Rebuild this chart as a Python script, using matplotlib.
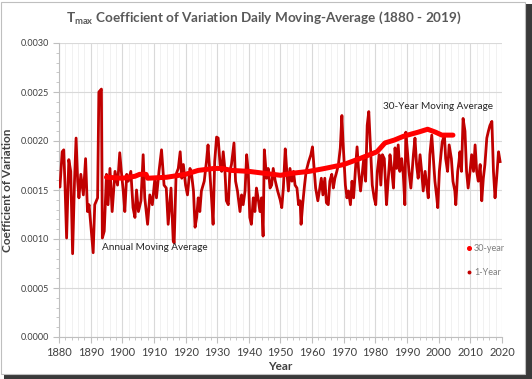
import matplotlib
matplotlib.use("Agg")
import matplotlib.pyplot as plt
from matplotlib.patches import Rectangle
from matplotlib.lines import Line2D
from matplotlib.ticker import MultipleLocator, FormatStrFormatter

plt.rcParams['font.family'] = ['Lato', 'DejaVu Sans']

# annual (1-year) moving average
annual_year = [
    1880.0, 1880.3, 1881.0, 1881.5, 1881.9, 1882.4, 1883.1, 1883.7, 1884.3, 1884.9,
    1885.4, 1885.9, 1886.3, 1886.9, 1887.7, 1888.4, 1889.0, 1889.5, 1890.1, 1890.8,
    1891.3, 1892.2, 1892.6, 1893.4, 1893.7, 1894.3, 1895.0, 1895.5, 1896.1, 1896.8,
    1897.7, 1898.5, 1899.2, 1899.7, 1900.3, 1900.8, 1901.4, 1901.9, 1902.7, 1903.4,
    1904.0, 1904.5, 1905.1, 1905.9, 1906.6, 1907.1, 1908.0, 1908.7, 1909.5, 1910.3,
    1910.8, 1911.6, 1912.4, 1913.2, 1913.9, 1914.5, 1915.4, 1916.1, 1916.4, 1917.0,
    1917.7, 1918.3, 1918.8, 1919.3, 1920.0, 1920.6, 1921.4, 1921.9, 1922.5, 1923.0,
    1923.5, 1924.0, 1924.5, 1925.0, 1925.9, 1926.6, 1927.1, 1927.6, 1928.2, 1928.7,
    1929.2, 1929.8, 1930.3, 1930.9, 1931.4, 1931.9, 1932.4, 1932.9, 1933.5, 1934.0,
    1934.5, 1935.3, 1935.8, 1936.4, 1937.2, 1937.7, 1938.2, 1938.8, 1939.3, 1939.8,
    1940.3, 1940.8, 1941.4, 1941.9, 1942.4, 1942.9, 1943.5, 1944.0, 1944.5, 1944.9,
    1945.6, 1946.1, 1946.7, 1947.2, 1947.7, 1948.3, 1949.1, 1949.9, 1950.4, 1950.9,
    1951.5, 1952.0, 1952.5, 1953.0, 1953.6, 1954.1, 1954.6, 1955.2, 1955.7, 1956.2,
    1956.5, 1957.0, 1957.6, 1958.1, 1958.9, 1959.6, 1960.1, 1960.7, 1961.1, 1961.8,
    1962.9, 1963.4, 1964.0, 1964.5, 1965.1, 1965.6, 1966.2, 1966.7, 1967.2, 1967.8,
    1968.3, 1968.9, 1969.4, 1969.7, 1970.5, 1971.0, 1971.5, 1972.1, 1972.6, 1973.1,
    1973.7, 1974.2, 1974.7, 1975.3, 1975.8, 1976.3, 1976.9, 1977.4, 1977.9, 1978.5,
    1979.0, 1979.6, 1980.1, 1980.6, 1981.2, 1981.7, 1982.2, 1982.8, 1983.5, 1984.0,
    1984.6, 1985.1, 1985.7, 1986.2, 1986.7, 1987.2, 1987.7, 1988.3, 1988.8, 1989.3,
    1989.6, 1990.2, 1990.6, 1991.2, 1992.0, 1992.5, 1993.0, 1993.5, 1994.1, 1994.6,
    1995.1, 1995.7, 1996.2, 1996.7, 1997.2, 1997.8, 1998.3, 1998.8, 1999.4, 1999.7,
    2000.2, 2000.7, 2001.1, 2001.8, 2002.2, 2002.8, 2003.3, 2004.0, 2004.5, 2005.1,
    2005.4, 2006.0, 2006.4, 2006.7, 2007.2, 2007.7, 2008.3, 2008.8, 2009.3, 2009.9,
    2010.4, 2011.0, 2011.5, 2012.0, 2012.5, 2013.1, 2013.6, 2014.1, 2014.6, 2015.2,
    2015.7, 2016.2, 2016.8, 2017.3, 2017.8, 2018.3, 2018.9, 2019.4,
]
annual_cv = [
    0.00155, 0.00153, 0.00189, 0.00191, 0.00155, 0.00101, 0.00181, 0.00169, 0.00085, 0.00159,
    0.00203, 0.00159, 0.00142, 0.00166, 0.00145, 0.00182, 0.00128, 0.00135, 0.00112, 0.00086,
    0.00135, 0.00142, 0.00250, 0.00253, 0.00101, 0.00108, 0.00166, 0.00135, 0.00172, 0.00128,
    0.00169, 0.00155, 0.00188, 0.00169, 0.00149, 0.00128, 0.00166, 0.00159, 0.00169, 0.00132,
    0.00122, 0.00150, 0.00128, 0.00139, 0.00186, 0.00142, 0.00115, 0.00145, 0.00135, 0.00162,
    0.00142, 0.00169, 0.00191, 0.00155, 0.00152, 0.00115, 0.00152, 0.00098, 0.00096, 0.00166,
    0.00172, 0.00189, 0.00162, 0.00176, 0.00155, 0.00145, 0.00172, 0.00166, 0.00149, 0.00112,
    0.00122, 0.00142, 0.00128, 0.00149, 0.00159, 0.00179, 0.00196, 0.00172, 0.00142, 0.00115,
    0.00179, 0.00204, 0.00203, 0.00176, 0.00169, 0.00189, 0.00172, 0.00139, 0.00135, 0.00169,
    0.00176, 0.00198, 0.00159, 0.00149, 0.00128, 0.00145, 0.00135, 0.00149, 0.00186, 0.00169,
    0.00122, 0.00115, 0.00142, 0.00128, 0.00152, 0.00142, 0.00128, 0.00142, 0.00103, 0.00191,
    0.00162, 0.00172, 0.00152, 0.00155, 0.00172, 0.00160, 0.00149, 0.00140, 0.00132, 0.00152,
    0.00192, 0.00169, 0.00149, 0.00172, 0.00159, 0.00169, 0.00155, 0.00152, 0.00135, 0.00139,
    0.00115, 0.00135, 0.00155, 0.00169, 0.00179, 0.00186, 0.00194, 0.00169, 0.00152, 0.00139,
    0.00162, 0.00145, 0.00162, 0.00137, 0.00135, 0.00159, 0.00166, 0.00152, 0.00162, 0.00169,
    0.00176, 0.00193, 0.00226, 0.00203, 0.00155, 0.00142, 0.00149, 0.00135, 0.00159, 0.00142,
    0.00172, 0.00194, 0.00169, 0.00149, 0.00166, 0.00182, 0.00159, 0.00216, 0.00230, 0.00189,
    0.00155, 0.00142, 0.00135, 0.00169, 0.00186, 0.00155, 0.00186, 0.00182, 0.00135, 0.00159,
    0.00186, 0.00172, 0.00152, 0.00193, 0.00172, 0.00196, 0.00169, 0.00182, 0.00166, 0.00135,
    0.00209, 0.00186, 0.00169, 0.00152, 0.00186, 0.00203, 0.00176, 0.00162, 0.00186, 0.00169,
    0.00149, 0.00169, 0.00155, 0.00142, 0.00186, 0.00206, 0.00182, 0.00159, 0.00142, 0.00132,
    0.00169, 0.00186, 0.00199, 0.00206, 0.00182, 0.00169, 0.00196, 0.00182, 0.00159, 0.00149,
    0.00135, 0.00169, 0.00179, 0.00189, 0.00169, 0.00223, 0.00210, 0.00169, 0.00152, 0.00169,
    0.00186, 0.00169, 0.00196, 0.00169, 0.00159, 0.00176, 0.00139, 0.00162, 0.00176, 0.00203,
    0.00210, 0.00216, 0.00220, 0.00169, 0.00142, 0.00162, 0.00189, 0.00179,
]

# 30-year moving average
ma30_year = [1895.0, 1900.0, 1904.0, 1905.5, 1907.5, 1908.0, 1914.0, 1920.0, 1924.0, 1929.0,
             1931.5, 1934.5, 1940.0, 1945.0, 1950.0, 1953.5, 1959.0, 1964.0, 1970.0, 1975.0,
             1980.5, 1983.0, 1985.0, 1986.0, 1989.0, 1993.5, 1996.5, 1999.0, 2001.0, 2004.5]
ma30_cv = [0.00163, 0.00162, 0.00164, 0.00166, 0.00166, 0.00162, 0.00163, 0.00166, 0.00170, 0.00172,
           0.00172, 0.00170, 0.00169, 0.00167, 0.00165, 0.00167, 0.00169, 0.00172, 0.00176, 0.00182,
           0.00189, 0.00198, 0.00200, 0.00201, 0.00205, 0.00209, 0.00212, 0.00209, 0.00206, 0.00206]

fig = plt.figure(figsize=(5.32, 3.79), dpi=100)

# Excel-like chart frame with a drop shadow
fig.patches.append(Rectangle((4 / 532, 0), 528 / 532, 6 / 379, transform=fig.transFigure,
                             facecolor='#3a3a3a', edgecolor='none', zorder=-3))
fig.patches.append(Rectangle((524 / 532, 0), 8 / 532, 375 / 379, transform=fig.transFigure,
                             facecolor='#3a3a3a', edgecolor='none', zorder=-3))
fig.patches.append(Rectangle((1 / 532, 5 / 379), 524 / 532, 372 / 379, transform=fig.transFigure,
                             facecolor='white', edgecolor='#bfbfbf', linewidth=0.8, zorder=-2))

ax = fig.add_axes([59 / 532, 1 - 337 / 379, 443 / 532, 294 / 379])
ax.set_facecolor('none')

ax.plot(annual_year, annual_cv, color='#c00000', linewidth=2.0, zorder=3)
ax.plot(ma30_year, ma30_cv, color='#ff0000', linewidth=3.6, zorder=4, solid_capstyle='round')

ax.set_xlim(1880, 2020)
ax.set_ylim(0, 0.003)
ax.xaxis.set_major_locator(MultipleLocator(10))
ax.xaxis.set_minor_locator(MultipleLocator(2))
ax.yaxis.set_major_locator(MultipleLocator(0.0005))
ax.yaxis.set_minor_locator(MultipleLocator(0.0001))
ax.yaxis.set_major_formatter(FormatStrFormatter('%.4f'))

ax.grid(which='major', color='#d9d9d9', linewidth=0.8)
ax.grid(which='minor', axis='x', color='#efefef', linewidth=0.6)
ax.set_axisbelow(True)
for s in ['top', 'right']:
    ax.spines[s].set_visible(False)
for s in ['left', 'bottom']:
    ax.spines[s].set_color('#bfbfbf')
    ax.spines[s].set_linewidth(0.8)
ax.tick_params(which='both', color='#bfbfbf', direction='out')
ax.tick_params(which='major', length=4)
ax.tick_params(which='minor', length=2.5)
ax.tick_params(axis='y', labelsize=6.5, labelcolor='#404040', pad=3)
ax.tick_params(axis='x', labelsize=8, labelcolor='#404040', pad=3)

ax.set_xlabel('Year', fontsize=8.5, fontweight='bold', color='#404040', labelpad=2)
ax.set_ylabel('Coefficient of Variation', fontsize=8.5, fontweight='bold', color='#404040', labelpad=6)

fig.text(0.495, 1 - 18 / 379, r'T$_{\mathregular{max}}$ Coefficient of Variation Daily Moving-Average (1880 - 2019)',
         ha='center', va='center', fontsize=9.7, fontweight='bold', color='#595959')

ax.text(1893.5, 0.00091, 'Annual Moving Average', fontsize=7.2, color='#262626', va='center', ha='left')
ax.text(1982.5, 0.00235, '30-Year Moving Average', fontsize=7.2, color='#262626', va='center', ha='left')

handles = [Line2D([], [], linestyle='none', marker='o', markersize=2.6, color='#ff0000'),
           Line2D([], [], linestyle='none', marker='o', markersize=1.8, color='#c00000')]
leg = ax.legend(handles, ['30-year', '1-Year'], loc='center left', bbox_to_anchor=(0.9, 0.26),
                frameon=False, fontsize=6.5, handlelength=0.6, handletextpad=0.3, labelspacing=1.6)
for t in leg.get_texts():
    t.set_color('#7f7f7f')

fig.savefig('out.png', dpi=100)
